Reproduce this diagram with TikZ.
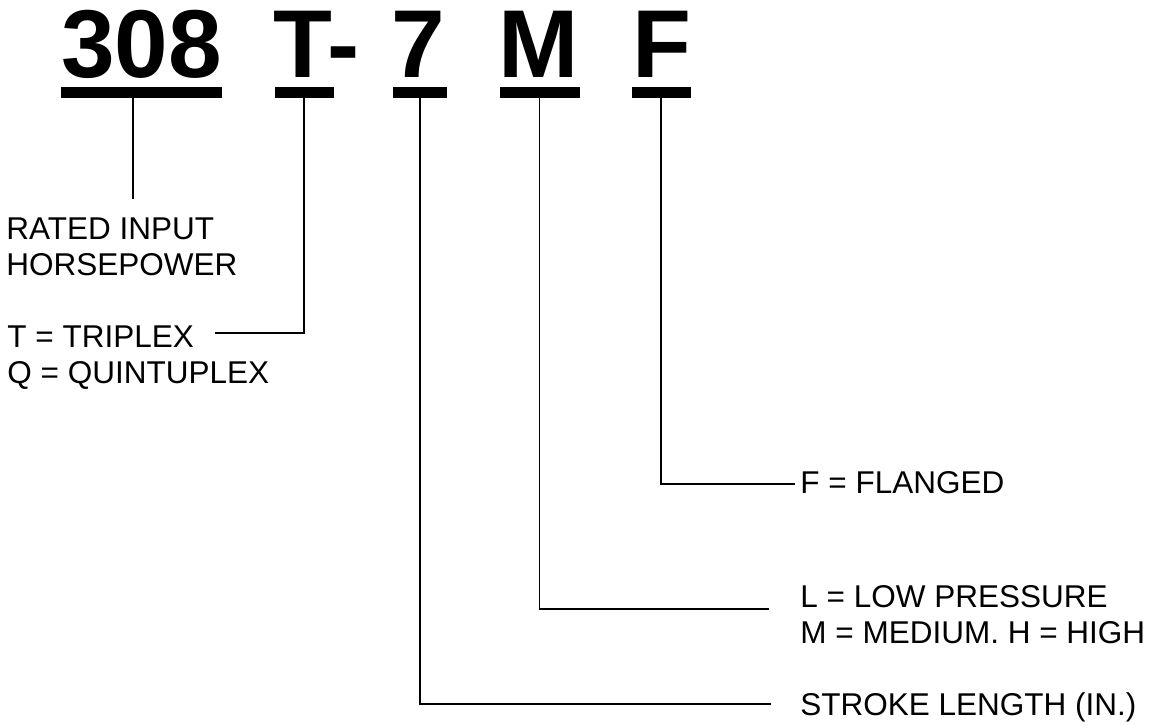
\documentclass[tikz,border=0pt]{standalone}
\usepackage{fontspec}
\setmainfont{Liberation Sans}
\tikzset{
  code/.style={font=\fontsize{48.2}{52}\selectfont\bfseries, inner sep=0pt, anchor=base},
  bar/.style={rectangle, fill=black, inner sep=0pt, minimum height=5.5pt},
  lbl/.style={font=\fontsize{15.75}{18}\selectfont, inner sep=0pt, align=left},
  lead/.style={line width=0.9pt},
}
\begin{document}
\begin{tikzpicture}[x=0.5pt, y=-0.5pt]
  \useasboundingbox (0,0) rectangle (1156,726);
  % ── model code (top row) ──────────────────────────────────────────
  \node[code] (hp) at (141.5,78) {308};
  \node[code, anchor=base west] (pump) at (273,78) {T-};
  \node[code] (stroke) at (418,78) {7};
  \node[code] (press) at (538.5,78) {M};
  \node[code] (flange) at (661.5,78) {F};
  % ── underlines ────────────────────────────────────────────────────
  \node[bar, minimum width=80.5pt] (uHp)     at (141.5,92.5) {};
  \node[bar, minimum width=29.5pt] (uPump)   at (304,92.5) {};
  \node[bar, minimum width=27pt]   (uStroke) at (420,92.5) {};
  \node[bar, minimum width=40pt]   (uPress)  at (539.5,92.5) {};
  \node[bar, minimum width=29.5pt] (uFlange) at (661,92.5) {};
  % ── descriptions ──────────────────────────────────────────────────
  \node[lbl, anchor=north west] (hpTxt)   at (6,217) {RATED INPUT\\HORSEPOWER};
  \node[lbl, anchor=north west] (pumpTxt) at (7,325) {T = TRIPLEX\\Q = QUINTUPLEX};
  \node[lbl, anchor=base west] (flangeTxt) at (800,494) {F = FLANGED};
  \node[lbl, anchor=north west] (pressTxt) at (800,585) {L = LOW PRESSURE\\M = MEDIUM. H = HIGH};
  \node[lbl, anchor=base west] (strokeTxt) at (800,715) {STROKE LENGTH (IN.)};
  % leader ends, just short of each text
  \coordinate (hpEnd)     at (133,199);
  \coordinate (pumpEnd)   at (215,333);
  \coordinate (flangeEnd) at (795,484);
  \coordinate (pressEnd)  at (769,609);
  \coordinate (strokeEnd) at (771,704);
  % ── leaders ───────────────────────────────────────────────────────
  \draw[lead] ([xshift=-4.25pt]uHp.south) -- (hpEnd);
  \draw[lead] (uPump.south) |- (pumpEnd);
  \draw[lead] (uStroke.south) |- (strokeEnd);
  \draw[lead] (uPress.south) |- (pressEnd);
  \draw[lead] (uFlange.south) |- (flangeEnd);
\end{tikzpicture}
\end{document}
